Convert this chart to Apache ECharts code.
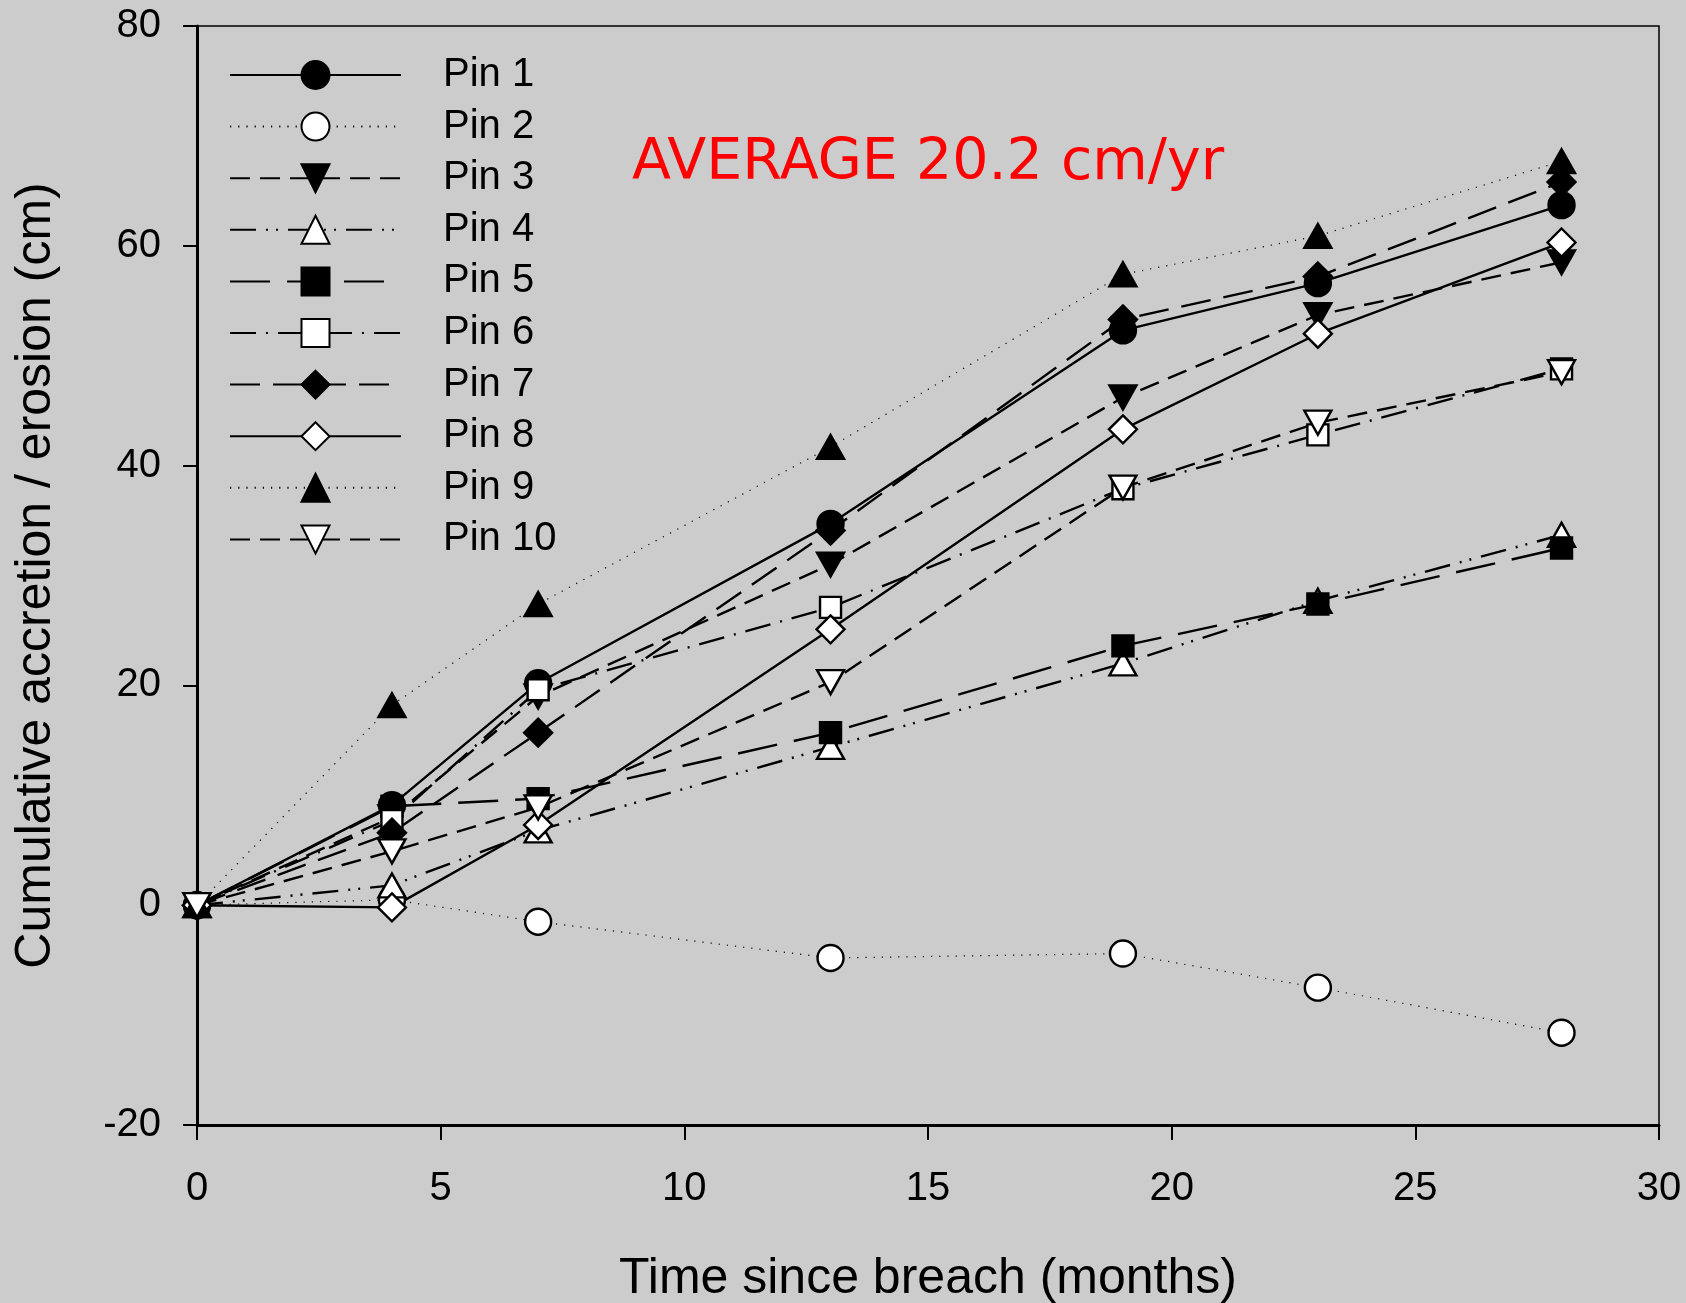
<!DOCTYPE html>
<html>
<head>
<meta charset="utf-8">
<script src="https://cdn.jsdelivr.net/npm/echarts@6.0.0/dist/echarts.min.js"></script>
<style>
  html, body { margin: 0; padding: 0; background: #cccccc; }
  #chart { width: 1686px; height: 1303px; }
</style>
</head>
<body>
<div id="chart"></div>
<script>
// months since breach
const months = [0, 4, 7, 13, 19, 23, 28];

// cumulative accretion / erosion (cm)
const pin1 = [0, 9.1, 20.2, 34.7, 52.3, 56.6, 63.7];
const pin2 = [0, 0.5, -1.5, -4.8, -4.4, -7.5, -11.6];
const pin3 = [0, 8.0, 19.0, 31.0, 46.2, 53.7, 58.5];
const pin4 = [0, 1.8, 6.8, 14.4, 22.0, 27.7, 33.7];
const pin5 = [0, 9.0, 9.7, 15.7, 23.6, 27.4, 32.5];
const pin6 = [0, 7.7, 19.6, 27.1, 37.9, 42.8, 48.8];
const pin7 = [0, 6.6, 15.7, 34.1, 53.3, 57.2, 65.8];
const pin8 = [0, -0.2, 7.3, 25.1, 43.3, 52.0, 60.3];
const pin9 = [0, 18.2, 27.4, 41.7, 57.4, 60.9, 67.7];
const pin10 = [0, 4.9, 8.9, 20.3, 38.0, 43.9, 48.5];

const pinNames = ['Pin 1', 'Pin 2', 'Pin 3', 'Pin 4', 'Pin 5', 'Pin 6', 'Pin 7', 'Pin 8', 'Pin 9', 'Pin 10'];
const pinValues = [pin1, pin2, pin3, pin4, pin5, pin6, pin7, pin8, pin9, pin10];

const xTicks = [0, 5, 10, 15, 20, 25, 30];
const yTicks = [-20, 0, 20, 40, 60, 80];

const FONT = '"Liberation Sans", Arial, sans-serif';

// marker + line look for each pin
const looks = [
  { symbol: 'circle', size: 26, fill: '#000', dash: 'solid', width: 2.4 },
  { symbol: 'circle', size: 26, fill: '#fff', dash: [1.2, 7], width: 1.2 },
  { symbol: 'triangle', size: [27, 24], fill: '#000', dash: [20, 10], width: 2.4, rotate: 180 },
  { symbol: 'triangle', size: [27, 24], fill: '#fff', dash: [26, 10, 2, 8, 2, 10], width: 2.4 },
  { symbol: 'rect', size: 21, fill: '#000', dash: [40, 17], width: 2.4 },
  { symbol: 'rect', size: 21, fill: '#fff', dash: [26, 10, 2, 10], width: 2.4 },
  { symbol: 'diamond', size: 28, fill: '#000', dash: [30, 13], width: 2.4 },
  { symbol: 'diamond', size: 28, fill: '#fff', dash: 'solid', width: 2.4 },
  { symbol: 'triangle', size: [27, 24], fill: '#000', dash: [1.2, 7], width: 1.2 },
  { symbol: 'triangle', size: [27, 24], fill: '#fff', dash: [20, 10], width: 2.4, rotate: 180 }
];

let series = pinNames.map((name, i) => {
  const look = looks[i];
  return {
    name: name,
    type: 'line',
    data: months.map((m, j) => [m, pinValues[i][j]]),
    symbol: look.symbol,
    symbolSize: look.size,
    symbolRotate: look.rotate || 0,
    showAllSymbol: true,
    lineStyle: { color: '#000', width: look.width, type: look.dash, cap: 'butt' },
    itemStyle: { color: look.fill, borderColor: '#000', borderWidth: 2.4 },
    emphasis: { disabled: true },
    animation: false
  };
});

let myChart = echarts.init(document.getElementById('chart'));
let option = {
  backgroundColor: '#cccccc',
  animation: false,
  grid: {
    left: 197, top: 26, width: 1462, height: 1099,
    outerBoundsMode: 'none',
    show: true, borderColor: '#000', borderWidth: 1.5, backgroundColor: 'transparent'
  },
  legend: {
    orient: 'vertical',
    left: 224,
    top: 50,
    itemWidth: 171,
    itemHeight: 35,
    itemGap: 11.6,
    data: pinNames,
    textStyle: { fontFamily: FONT, fontSize: 40, color: '#000', padding: [0, 0, 0, 37], lineHeight: 35 }
  },
  xAxis: {
    type: 'value',
    min: xTicks[0],
    max: xTicks[xTicks.length - 1],
    interval: 5,
    name: 'Time since breach (months)',
    nameLocation: 'middle',
    nameGap: 129,
    nameTextStyle: { fontFamily: FONT, fontSize: 50, color: '#000' },
    axisLine: { onZero: false, lineStyle: { color: '#000', width: 3 } },
    axisTick: { inside: false, length: 15, lineStyle: { color: '#000', width: 2 } },
    axisLabel: { fontFamily: FONT, fontSize: 40, color: '#000', margin: 44 },
    splitLine: { show: false }
  },
  yAxis: {
    type: 'value',
    min: yTicks[0],
    max: yTicks[yTicks.length - 1],
    interval: 20,
    name: 'Cumulative accretion / erosion (cm)',
    nameLocation: 'middle',
    nameGap: 136,
    nameTextStyle: { fontFamily: FONT, fontSize: 50, color: '#000' },
    axisLine: { onZero: false, lineStyle: { color: '#000', width: 3 } },
    axisTick: { inside: false, length: 14, lineStyle: { color: '#000', width: 2 } },
    axisLabel: { fontFamily: FONT, fontSize: 40, color: '#000', margin: 36 },
    splitLine: { show: false }
  },
  graphic: [
    {
      type: 'text',
      left: 632,
      top: 136,
      style: {
        text: 'AVERAGE 20.2 cm/yr',
        fill: '#ff0000',
        font: '57px "DejaVu Sans", Verdana, sans-serif'
      }
    }
  ],
  series: series
};
myChart.setOption(option);
</script>
</body>
</html>
